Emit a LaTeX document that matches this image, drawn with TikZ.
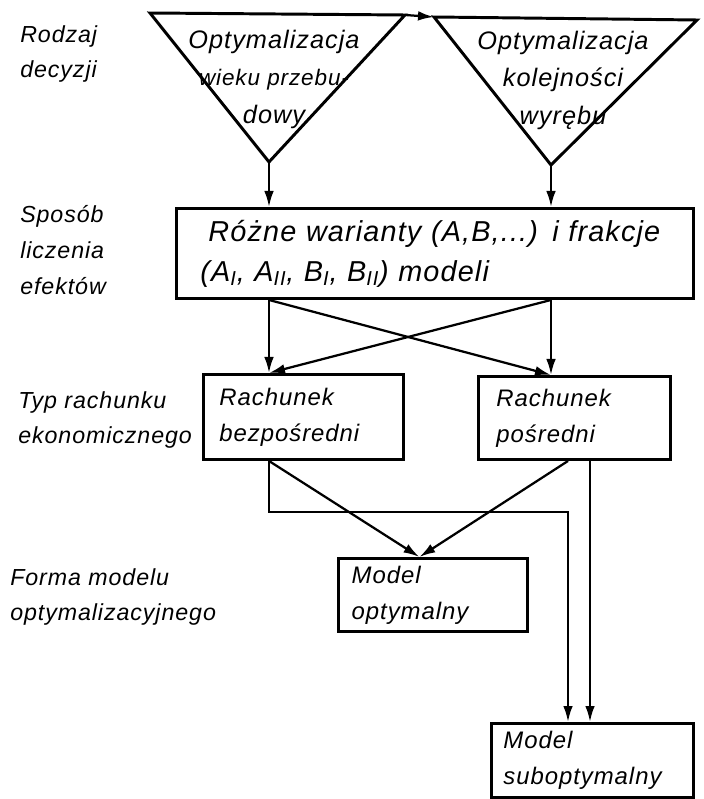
\documentclass[tikz,border=0pt]{standalone}
\usepackage{fontspec}
\setmainfont{Liberation Sans}[LetterSpace=4]
\usetikzlibrary{positioning, arrows.meta}

\begin{document}
\begin{tikzpicture}[
x=0.025cm, y=-0.025cm,
boxnode/.style={draw, line width=2.1pt, rectangle, anchor=north west, align=left,
  font=\fontsize{17}{25.5}\selectfont\itshape},
levelnode/.style={anchor=north west, align=left, inner sep=0pt,
  font=\fontsize{16.5}{25.5}\selectfont\itshape},
trinode/.style={anchor=north, align=center, inner sep=0pt,
  font=\fontsize{18}{26.5}\selectfont\itshape},
tri/.style={draw, line width=2.1pt, line join=miter},
arr/.style={line width=1.6pt, -{Latex[length=4mm,width=2.4mm]}}
]
\useasboundingbox (0,0) rectangle (703,799);

%Decision triangles
\coordinate (t1nw) at (150,13);
\coordinate (t1ne) at (405,15);
\coordinate (t1) at (269,162);
\coordinate (t2nw) at (434,17);
\coordinate (t2ne) at (697,20);
\coordinate (t2) at (551,165);
\draw[tri] (t1nw) -- (t1ne) -- (t1) -- cycle;
\draw[tri] (t2nw) -- (t2ne) -- (t2) -- cycle;
\node[trinode] (wiek) at (274,30) {Optymalizacja\\
  {\fontsize{16}{26.5}\selectfont wieku przebu-}\\dowy};
\node[trinode] (wyreb) at (563,31) {Optymalizacja\\kolejności\\wyrębu};

%Boxes
\node[boxnode, text width=11.725cm, minimum height=2.25cm, inner xsep=0.6cm,
  font=\fontsize{20.5}{28.5}\selectfont\itshape] (big) at (175,207)
  {\hspace{2mm}Różne warianty (A,B,...) i frakcje\\
   (A\textsubscript{I}, A\textsubscript{II}, B\textsubscript{I}, B\textsubscript{II}) modeli};
\node[boxnode, text width=4.2cm, minimum height=2.125cm, inner xsep=0.4cm] (bezp) at (202,373)
  {Rachunek\\bezpośredni};
\node[boxnode, text width=3.9cm, minimum height=2.075cm, inner xsep=0.45cm] (posr) at (477,375)
  {Rachunek\\pośredni};
\node[boxnode, text width=4.065cm, minimum height=1.825cm, inner xsep=0.33cm] (opt) at (337,557)
  {Model\\optymalny};
\node[boxnode, text width=4.45cm, minimum height=1.85cm, inner xsep=0.3cm] (sub) at (490,722)
  {Model\\suboptymalny};

%Level labels
\node[levelnode] (rodzaj) at (20,25) {Rodzaj\\decyzji};
\node[levelnode] (sposob) at (20,205) {Sposób\\liczenia\\efektów};
\node[levelnode] (typ) at (18,391) {Typ rachunku\\ekonomicznego};
\node[levelnode] (forma) at (10,568) {Forma modelu\\optymalizacyjnego};

%Connectors
\coordinate (knee) at (568,512);
\coordinate (lane) at (590,640);
\coordinate (optin) at ([xshift=-3.4mm]opt.north);

\draw[arr] (t1ne) -- (t2nw);
\draw[arr] (t1) -- (t1 |- big.north);
\draw[arr] (t2) -- (t2 |- big.north);
\foreach \src/\dst/\tgt in {t1/t1/bezp, t1/t2/posr, t2/t1/bezp, t2/t2/posr}
  \draw[arr] (big.south -| \src) -- (\tgt.north -| \dst);
\draw[arr] (bezp.south -| t1) -- (optin);
\draw[arr] (posr.south -| knee) -- (optin);
\draw[arr] (bezp.south -| t1) |- (knee) -- (knee |- sub.north);
\draw[arr] (posr.south -| lane) -- (lane |- sub.north);
\end{tikzpicture}
\end{document}
